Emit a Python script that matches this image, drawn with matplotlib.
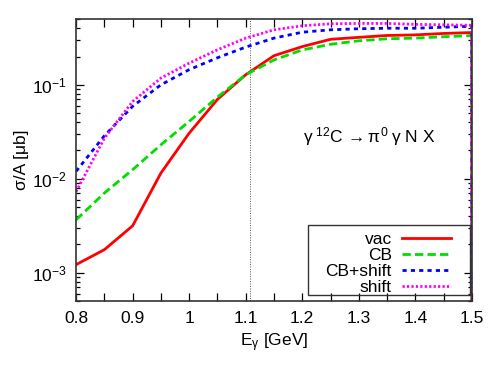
import numpy as np
import matplotlib
matplotlib.use("Agg")
import matplotlib.pyplot as plt
from matplotlib.patches import Rectangle
from matplotlib.ticker import MultipleLocator, LogLocator, NullFormatter

plt.rcParams['font.family'] = ['Liberation Sans', 'DejaVu Sans']
plt.rcParams['mathtext.fontset'] = 'custom'
plt.rcParams['mathtext.rm'] = 'Liberation Sans'
plt.rcParams['mathtext.it'] = 'Liberation Sans'
plt.rcParams['mathtext.sf'] = 'Liberation Sans'

# photon energy grid [GeV]; last point drops to ~0 at the cut
E = [0.80, 0.85, 0.90, 0.95, 1.00, 1.05, 1.10, 1.15, 1.20, 1.25,
     1.30, 1.35, 1.40, 1.45, 1.50, 1.50]

vac = [1.22e-3, 1.76e-3, 3.16e-3, 1.15e-2, 3.06e-2, 7.0e-2, 0.128, 0.204, 0.255, 0.305,
       0.32, 0.335, 0.34, 0.352, 0.36, 1e-6]
cb = [3.66e-3, 7.05e-3, 1.25e-2, 2.3e-2, 4.08e-2, 7.4e-2, 0.128, 0.184, 0.235, 0.27,
      0.294, 0.309, 0.314, 0.325, 0.334, 1e-6]
cb_shift = [1.2e-2, 2.87e-2, 5.9e-2, 0.10, 0.145, 0.194, 0.252, 0.314, 0.363, 0.385,
            0.395, 0.40, 0.40, 0.41, 0.42, 1e-6]
shift = [7.3e-3, 2.7e-2, 6.65e-2, 0.118, 0.17, 0.236, 0.314, 0.385, 0.425, 0.446,
         0.45, 0.45, 0.44, 0.435, 0.43, 1e-6]

E_threshold = 1.107

fig = plt.figure(figsize=(4.91, 3.68), dpi=100)
ax = fig.add_axes([0.155, 0.182, 0.806, 0.766])

ax.axvline(E_threshold, color='#555555', linestyle=(0, (1, 1.5)), linewidth=0.7)

ax.plot(E, vac, color='#ff0000', linestyle='-', linewidth=2.0, label='vac')
ax.plot(E, cb, color='#00dd00', linestyle=(0, (3, 1.5)), linewidth=2.0, label='CB')
ax.plot(E, cb_shift, color='#0000ff', linestyle=(0, (1.5, 1.5)), linewidth=2.0, label='CB+shift')
ax.plot(E, shift, color='#ff00ff', linestyle=(0, (0.8, 0.8)), linewidth=2.0, label='shift')

ax.set_yscale('log')
ax.set_xlim(0.8, 1.5)
ax.set_ylim(5e-4, 0.5)

ax.xaxis.set_minor_locator(MultipleLocator(0.05))
ax.set_xticks(np.arange(0.8, 1.51, 0.1))
ax.set_xticklabels(['0.8', '0.9', '1', '1.1', '1.2', '1.3', '1.4', '1.5'])
ax.yaxis.set_major_locator(LogLocator(base=10, numticks=10))
ax.yaxis.set_minor_locator(LogLocator(base=10, subs=np.arange(2, 10), numticks=20))
ax.yaxis.set_minor_formatter(NullFormatter())

ax.tick_params(which='both', direction='in', top=True, right=True, labelsize=12.5, pad=7)
ax.tick_params(which='major', length=6, width=0.9)
ax.tick_params(which='minor', length=3, width=0.9)
ax.tick_params(axis='x', which='minor', length=6)
for s in ax.spines.values():
    s.set_linewidth(1.2)
    s.set_color('#333333')

ax.set_xlabel(r'E$_\gamma$ [GeV]', fontsize=12.5, labelpad=4)
ax.set_ylabel('σ/A [μb]', fontsize=12.5, labelpad=2)

ax.text(0.74, 0.582, r'$\gamma\;^{12}$C$\,\rightarrow\pi^0\;\gamma\;$N X',
        transform=ax.transAxes, ha='center', va='center', fontsize=12.5)

# gnuplot-style key: text right-aligned, sample on the right, boxed
leg = ax.legend(loc='lower right', bbox_to_anchor=(0.947, 0.022), markerfirst=False,
                fontsize=12.5, frameon=False, handlelength=2.8,
                borderaxespad=0, labelspacing=0.05, borderpad=0,
                handletextpad=0.6, alignment='right')
for t in leg.get_texts():
    t.set_ha('right')
leg._legend_box.align = 'right'
ax.add_patch(Rectangle((0.586, 0.021), 0.409, 0.249, transform=ax.transAxes,
                       fill=False, edgecolor='#333333', linewidth=1.0, zorder=5))

fig.savefig('out.png', dpi=100)
